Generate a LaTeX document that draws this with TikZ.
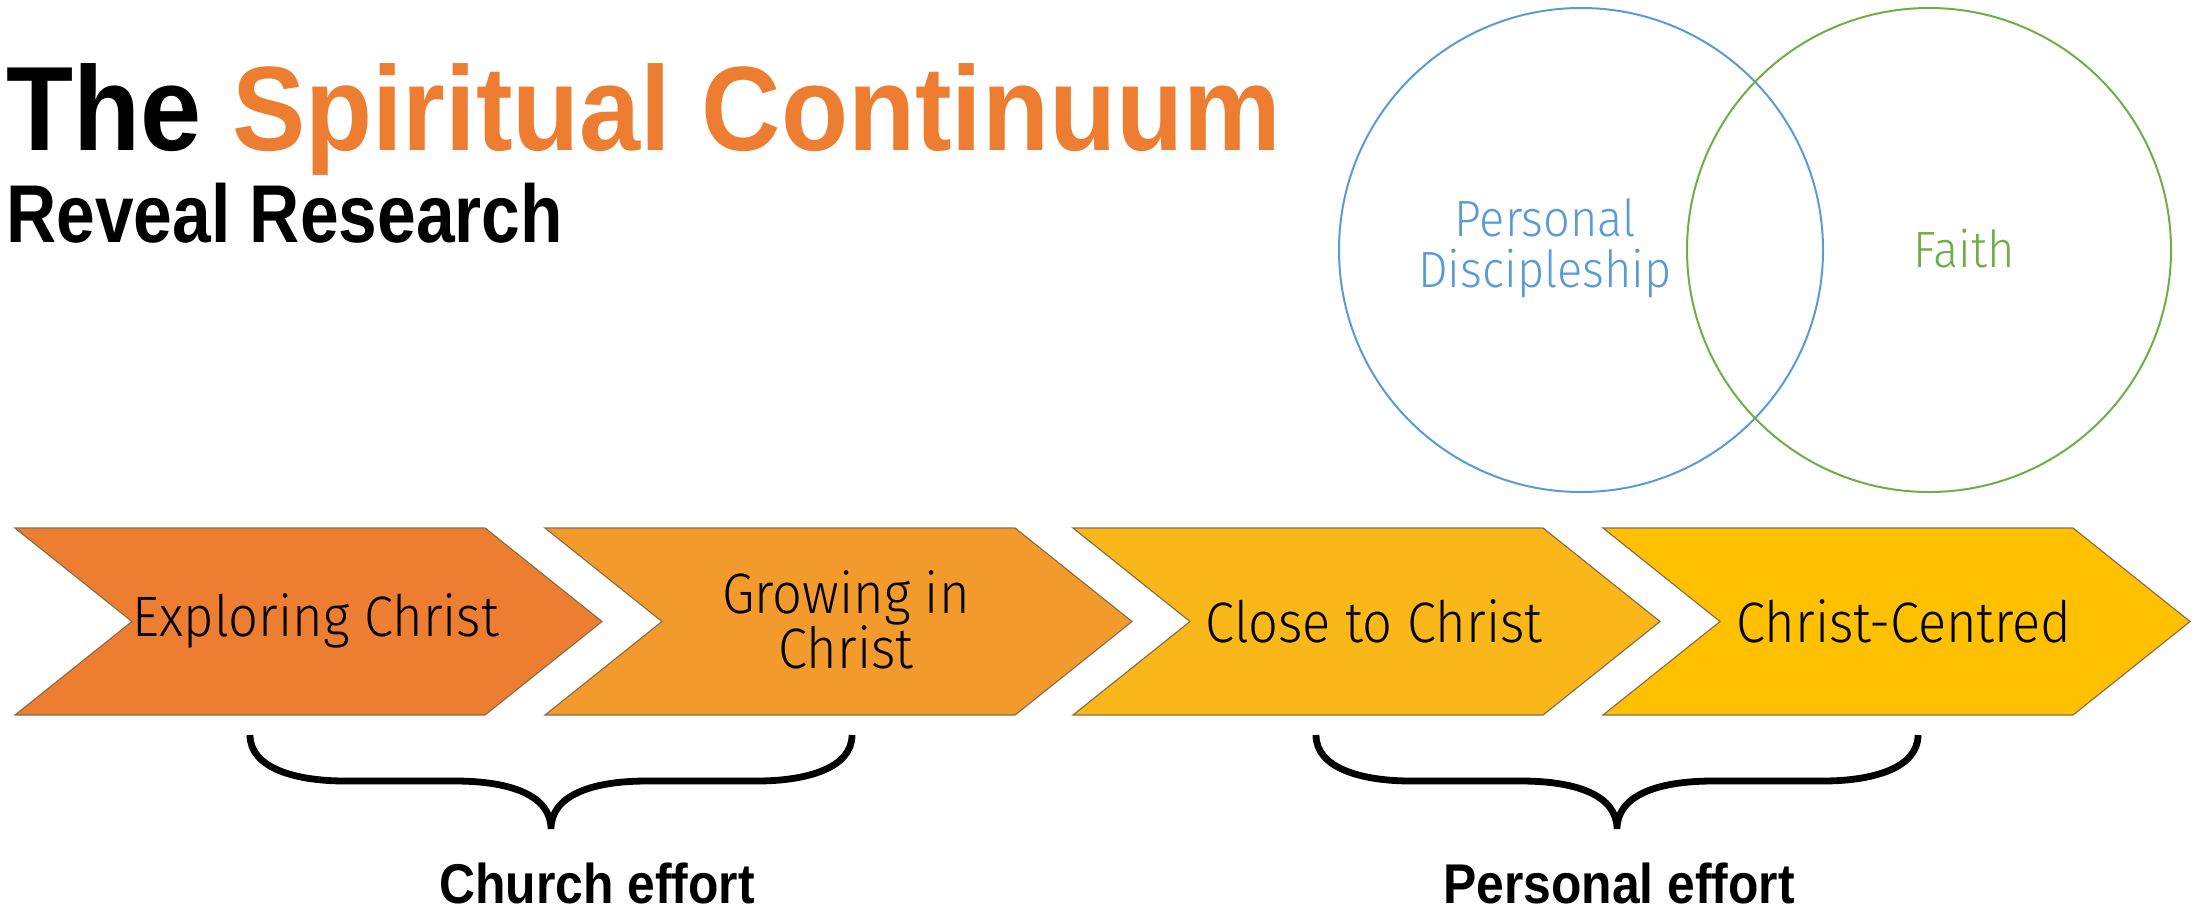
\documentclass[tikz,border=0pt]{standalone}
\usepackage{fontspec}
\setmainfont{Liberation Sans}
\newfontfamily\lightfont{Fira Sans Light}[FakeStretch=0.92]
\newfontfamily\titlefont{Liberation Sans}[FakeStretch=0.915]
\newfontfamily\subfont{Liberation Sans}[FakeStretch=0.848]
\newfontfamily\efffont{Liberation Sans}[FakeStretch=0.89]
\definecolor{corange}{HTML}{ED7D31}
\definecolor{corangeb}{HTML}{F29B2C}
\definecolor{cyellowa}{HTML}{F9B719}
\definecolor{cyellowb}{HTML}{FFC000}
\definecolor{cblue}{HTML}{5B9BD5}
\definecolor{cgreen}{HTML}{70AD47}
\definecolor{cedge}{RGB}{140,110,70}
\tikzset{
  chevbox/.style={draw=cedge, line width=0.6pt, line join=miter},
  chevtext/.style={font=\lightfont\fontsize{28.5}{27.5}\selectfont, align=center, inner sep=0pt},
  vcircle/.style={circle, line width=1pt, minimum size=242pt, inner sep=0pt},
  vtext/.style={font=\lightfont\fontsize{25.5}{25.5}\selectfont, align=center, inner sep=0pt},
  brace/.style={line width=3.4pt, line cap=butt},
  efftext/.style={font=\efffont\bfseries\fontsize{28}{30}\selectfont, inner sep=0pt},
}
\newcommand\chevron[5]{%
  \fill[#2] (#1,528) -- (#1+470,528) -- (#1+587,621.5) -- (#1+470,715) -- (#1,715) -- (#1+117,621.5) -- cycle;
  \draw[chevbox] (#1,528) -- (#1+470,528) -- (#1+587,621.5) -- (#1+470,715) -- (#1,715) -- (#1+117,621.5) -- cycle;
  \node[chevtext] (#3) at (#1+301,#4) {#5};
}
\newcommand\bracepath[2]{%
  \coordinate (#2-l) at (#1,735);
  \coordinate (#2-tip) at (#1+301,829);
  \coordinate (#2-r) at (#1+602,735);
  \draw[brace] (#2-l) .. controls (#1,768) and (#1+45,781) .. (#1+95,781)
     -- (#1+205,781) .. controls (#1+262,781) and (#1+301,796) .. (#2-tip)
     .. controls (#1+301,796) and (#1+340,781) .. (#1+397,781)
     -- (#1+507,781) .. controls (#1+557,781) and (#1+602,768) .. (#2-r);
}
\begin{document}
\begin{tikzpicture}[x=0.5pt, y=-0.5pt]
\useasboundingbox (0,0) rectangle (2203,911);
% title
\node[anchor=base west, inner sep=0pt, font=\titlefont\bfseries\fontsize{60}{62}\selectfont] (title) at (6,150) {The \textcolor{corange}{Spiritual Continuum}};
\node[anchor=base west, inner sep=0pt, font=\subfont\bfseries\fontsize{41}{43}\selectfont] (sub) at (6,242) {Reveal Research};
% venn
\node[vcircle, draw=cblue] (pd) at (1581,250) {};
\node[vcircle, draw=cgreen] (fa) at (1929,250) {};
\node[vtext, text=cblue] (pdt) at (1545,248) {Personal\\Discipleship};
\node[vtext, text=cgreen] (fat) at (1964,249) {Faith};
% chevrons
\chevron{15}{corange}{c1}{621}{Exploring Christ}
\chevron{545}{corangeb}{c2}{620}{Growing in\\Christ}
\chevron{1073}{cyellowa}{c3}{621}{Close to Christ}
\chevron{1603}{cyellowb}{c4}{621}{Christ-Centred}
% braces
\bracepath{250}{b1}
\bracepath{1316}{b2}
\node[efftext] (ce) at (597,883) {Church effort};
\node[efftext] (pe) at (1619,883) {Personal effort};
\end{tikzpicture}
\end{document}
